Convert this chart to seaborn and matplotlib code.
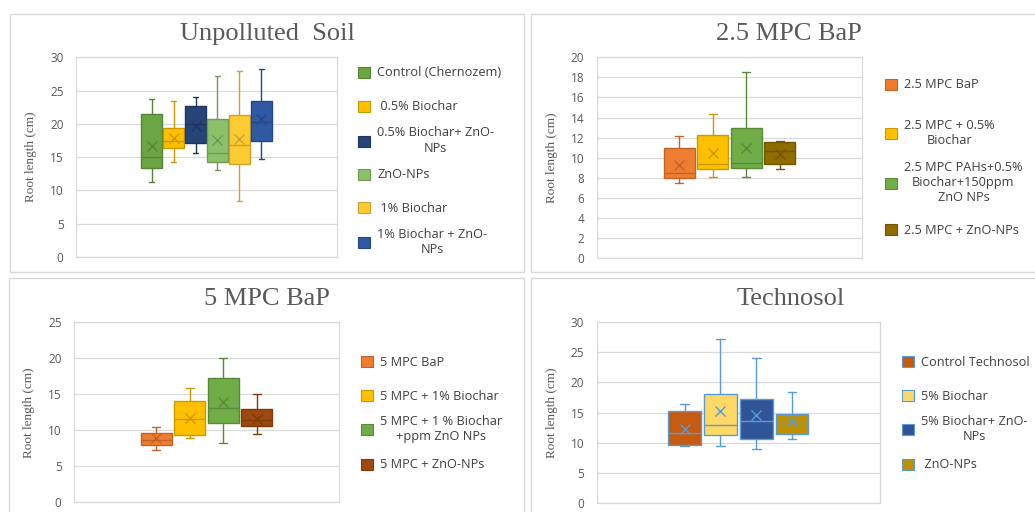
import numpy as np
import pandas as pd
import matplotlib
matplotlib.use("Agg")
import matplotlib.pyplot as plt
import matplotlib.colors as mcolors
from matplotlib.patches import Rectangle, Patch
import seaborn as sns

# ---------------- data: five-number summaries + means (root length, cm) ----------------
# Unpolluted soil
soil_title = "Unpolluted  Soil"
soil_labels = ["Control (Chernozem)", " 0.5% Biochar", "0.5% Biochar+ ZnO-\nNPs",
               "ZnO-NPs", " 1% Biochar", "1% Biochar + ZnO-\nNPs"]
soil_min = [11.2, 14.2, 15.6, 13.0, 8.4, 14.7]
soil_q1 = [13.4, 16.4, 17.2, 14.3, 14.0, 17.5]
soil_median = [15.0, 17.4, 20.0, 15.6, 16.8, 20.3]
soil_q3 = [21.5, 19.4, 22.7, 20.7, 21.4, 23.5]
soil_max = [23.8, 23.5, 24.0, 27.2, 27.9, 28.3]
soil_mean = [16.7, 17.9, 19.7, 17.6, 17.8, 20.7]

# 2.5 MPC BaP
bap25_title = "2.5 MPC BaP"
bap25_labels = ["2.5 MPC BaP", "2.5 MPC + 0.5%\nBiochar",
                "2.5 MPC PAHs+0.5%\nBiochar+150ppm\nZnO NPs", "2.5 MPC + ZnO-NPs"]
bap25_min = [7.5, 8.05, 8.05, 8.85]
bap25_q1 = [8.0, 8.9, 9.0, 9.35]
bap25_median = [8.5, 9.4, 9.5, 10.7]
bap25_q3 = [10.95, 12.3, 13.0, 11.6]
bap25_max = [12.2, 14.35, 18.5, 11.65]
bap25_mean = [9.3, 10.5, 11.0, 10.4]

# 5 MPC BaP
bap5_title = "5 MPC BaP"
bap5_labels = ["5 MPC BaP", "5 MPC + 1% Biochar",
               "5 MPC + 1 % Biochar\n+ppm ZnO NPs", "5 MPC + ZnO-NPs"]
bap5_min = [7.3, 8.9, 8.3, 9.5]
bap5_q1 = [7.9, 9.3, 11.0, 10.6]
bap5_median = [8.6, 11.6, 13.05, 11.4]
bap5_q3 = [9.6, 14.1, 17.3, 12.9]
bap5_max = [10.5, 15.9, 20.1, 15.1]
bap5_mean = [8.9, 11.75, 14.0, 11.6]

# Technosol
techno_title = "Technosol"
techno_labels = ["Control Technosol", "5% Biochar", "5% Biochar+ ZnO-\nNPs", " ZnO-NPs"]
techno_min = [9.45, 9.5, 8.9, 10.55]
techno_q1 = [9.55, 11.3, 10.55, 11.5]
techno_median = [11.6, 13.0, 13.6, 13.3]
techno_q3 = [15.2, 18.0, 17.3, 14.7]
techno_max = [16.4, 27.1, 24.0, 18.4]
techno_mean = [12.3, 15.2, 14.6, 13.6]

# ---------------- styling ----------------
soil_fill = ["#6BA544", "#FFC000", "#264478", "#8BC16A", "#FFCB33", "#3059A5"]
bap25_fill = ["#ED7D31", "#FFC000", "#70AD47", "#8F6C00"]
bap5_fill = ["#ED7D31", "#FFC000", "#70AD47", "#9E480E"]
techno_fill = ["#C55A11", "#FFD966", "#2F5597", "#BF9000"]


def darker(c, f=0.8):
    r, g, b = mcolors.to_rgb(c)
    return (r * f, g * f, b * f)


soil_line = [darker(c) for c in soil_fill]
bap25_line = [darker(c) for c in bap25_fill]
bap5_line = [darker(c) for c in bap5_fill]
techno_line = ["#5B9BD5"] * 4

sns.set_theme(style="white")
plt.rcParams["font.family"] = ["Open Sans", "DejaVu Sans"]

W, H = 1035, 512
fig = plt.figure(figsize=(W / 100, H / 100), dpi=100)
fig.patch.set_facecolor("white")

GRID = "#D9D9D9"
TXT = "#595959"


def fx(px):
    return px / W


def fy(py):
    return 1 - py / H


def panel_frame(x0, y0, x1, y1):
    fig.add_artist(Rectangle((fx(x0), fy(y1)), fx(x1) - fx(x0), fy(y0) - fy(y1),
                             transform=fig.transFigure, fill=False,
                             edgecolor=GRID, lw=1.0))


def draw_panel(rect, labels, mins, q1s, meds, q3s, maxs, means, fills, lines,
               ymax, ystep, ylabel_x):
    ax = fig.add_axes([fx(rect[0]), fy(rect[3]), fx(rect[2]) - fx(rect[0]),
                       fy(rect[1]) - fy(rect[3])])
    df = pd.DataFrame({
        "group": np.repeat(labels, 5),
        "length": np.column_stack([mins, q1s, meds, q3s, maxs]).ravel(),
    })
    for lab, fc, lc in zip(labels, fills, lines):
        sub = df[df["group"] == lab]
        sns.boxplot(data=sub, x="group", y="length", order=labels, color=fc,
                    linecolor=lc, linewidth=1.0, width=0.92, whis=(0, 100),
                    saturation=1, capwidths=0.24, ax=ax)
    for lab, m, lc in zip(labels, means, lines):
        sns.pointplot(x=[lab], y=[m], order=labels, color=lc, markers="x",
                      linestyles="none", errorbar=None, markersize=7,
                      markeredgewidth=1.0, ax=ax)
    n = len(labels)
    c = (n - 1) / 2
    ax.set_xlim(c - 0.99 * n, c + 0.99 * n)
    ax.set_ylim(0, ymax)
    ax.set_yticks(np.arange(0, ymax + 0.01, ystep))
    ax.set_xticks([])
    ax.set_xlabel("")
    ax.yaxis.grid(True, color=GRID, lw=0.9)
    ax.xaxis.grid(False)
    ax.set_axisbelow(True)
    for s in ax.spines.values():
        s.set_visible(True)
        s.set_color(GRID)
        s.set_linewidth(0.9)
    ax.tick_params(axis="y", length=0, pad=9, labelsize=8.5, labelcolor=TXT)
    ax.set_ylabel("Root length (cm)", family="Liberation Serif", fontsize=9.5,
                  color=TXT)
    ax.yaxis.set_label_coords((ylabel_x - rect[0]) / (rect[2] - rect[0]), 0.5)
    return ax


def draw_legend(ax, labels, fills, lines, x, ys):
    for lab, fc, lc, y in zip(labels, fills, lines, ys):
        leg = ax.legend(handles=[Patch(facecolor=fc, edgecolor=lc, lw=0.8)],
                        labels=[lab], loc="center left",
                        bbox_to_anchor=(fx(x), fy(y)), bbox_transform=fig.transFigure,
                        frameon=False, borderpad=0, borderaxespad=0,
                        handlelength=0.95, handleheight=0.95, handletextpad=0.55,
                        fontsize=9.2, labelcolor="#404040")
        for t in leg.get_texts():
            t.set_multialignment("center")
        ax.add_artist(leg)
    # each entry is already attached as an artist; avoid drawing the last twice
    ax.legend_ = None


def title(x, y, s):
    fig.text(fx(x), fy(y), s, ha="center", va="center", family="Liberation Serif",
             fontsize=19, color=TXT)


# panel frames
panel_frame(10, 14, 524, 272)
panel_frame(531, 14, 1047, 272)
panel_frame(9, 278, 524, 530)
panel_frame(531, 278, 1047, 530)

ax1 = draw_panel((76, 57.3, 337, 257), soil_labels, soil_min, soil_q1, soil_median,
                 soil_q3, soil_max, soil_mean, soil_fill, soil_line, 30, 5, 37)
draw_legend(ax1, soil_labels, soil_fill, soil_line, 358, [73, 107, 140.5, 175, 208, 242])
title(267, 34, soil_title)

ax2 = draw_panel((596.7, 57.3, 862.3, 258), bap25_labels, bap25_min, bap25_q1,
                 bap25_median, bap25_q3, bap25_max, bap25_mean, bap25_fill,
                 bap25_line, 20, 2, 557.5)
draw_legend(ax2, bap25_labels, bap25_fill, bap25_line, 885, [85, 133, 182.7, 230.7])
title(789, 34, bap25_title)

ax3 = draw_panel((74, 322.3, 339.3, 502.3), bap5_labels, bap5_min, bap5_q1,
                 bap5_median, bap5_q3, bap5_max, bap5_mean, bap5_fill, bap5_line,
                 25, 5, 35)
draw_legend(ax3, bap5_labels, bap5_fill, bap5_line, 361, [362.3, 396, 429, 465])
title(267, 299, bap5_title)

ax4 = draw_panel((596.7, 322, 880, 503), techno_labels, techno_min, techno_q1,
                 techno_median, techno_q3, techno_max, techno_mean, techno_fill,
                 techno_line, 30, 5, 557.5)
draw_legend(ax4, techno_labels, techno_fill, techno_line, 902, [362.3, 396.7, 428.7, 465])
title(791, 299, techno_title)

fig.savefig("out.png", dpi=100, facecolor="white")
